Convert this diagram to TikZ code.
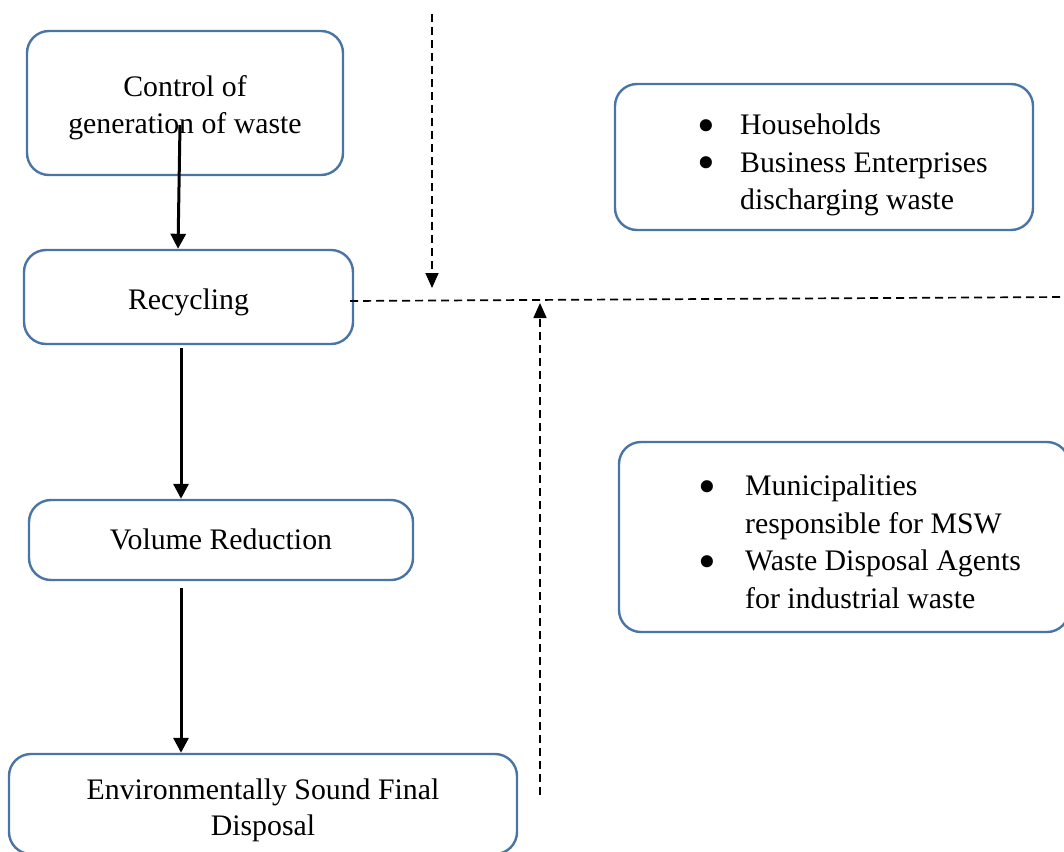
\documentclass[tikz,border=0pt]{standalone}
\usepackage{fontspec}
\setmainfont{Liberation Serif}
\usetikzlibrary{arrows.meta}
\definecolor{boxblue}{RGB}{72,116,166}
\newcommand{\lowered}[2]{\raisebox{-#1}[\height][\depth]{\begin{tabular}{@{}c@{}}#2\end{tabular}}}
\newcommand{\bul}[1]{\makebox[#1][l]{\makebox[0pt]{\raisebox{-7.8pt}[0pt][0pt]{\scalebox{1.7}{\textbullet}}}}}
\begin{document}
\begin{tikzpicture}[x=1pt,y=-1pt,
  box/.style={draw=boxblue, line width=2.4pt, rounded corners=22pt, inner sep=0pt, align=center,
    font=\fontsize{29.8}{37}\selectfont},
  txt/.style={inner sep=0pt, align=left, font=\fontsize{29.8}{37.5}\selectfont},
  solidarr/.style={line width=3pt, -{Triangle[width=15pt,length=15pt]}},
  dasharr/.style={line width=1.7pt, dash pattern=on 8pt off 5pt, -{Triangle[width=13pt,length=15pt]}},
  dashline/.style={line width=1.7pt, dash pattern=on 8pt off 5pt}]
\useasboundingbox (0,0) rectangle (1064,851);
% left column
\node[box, minimum width=316pt, minimum height=144pt] (ctrl) at (185,103) {\lowered{5pt}{Control of\\generation of waste}};
\node[box, minimum width=329pt, minimum height=94pt] (rec) at (188.5,297) {\lowered{5pt}{Recycling}};
\node[box, minimum width=384pt, minimum height=80pt] (vol) at (221,540) {\lowered{2pt}{Volume Reduction}};
\node[box, minimum width=508pt, minimum height=100pt, font=\fontsize{29.8}{36}\selectfont] (env) at (263,804) {\lowered{6pt}{Environmentally Sound Final\\Disposal}};
% right boxes
\node[box, minimum width=418pt, minimum height=146pt] (hh) at (824,157) {};
\node[txt, anchor=west] (hht) at (706,165) {\bul{34pt}Households\\\bul{34pt}Business Enterprises\\\hspace*{34pt}discharging waste};
\node[box, minimum width=450pt, minimum height=190pt] (mun) at (844,537) {};
\node[txt, anchor=west] (munt) at (707,542) {\bul{38pt}Municipalities\\\hspace*{38pt}responsible for MSW\\\bul{38pt}Waste Disposal Agents\\\hspace*{38pt}for industrial waste};
% solid arrows
\coordinate (spine) at (181,0);
\coordinate (cstart) at (180,125);
\draw[solidarr] (cstart) -- (rec.north -| 178,0);
\draw[solidarr] (rec.south -| spine) ++(0,3) -- (vol.north -| spine);
\draw[solidarr] (vol.south -| spine) ++(0,7) -- (env.north -| spine);
% dashed lines
\coordinate (topd) at (432,14);
\coordinate (tope) at (432,288);
\coordinate (hend) at (1064,297);
\coordinate (botd) at (540,795);
\coordinate (bote) at (540,303);
\draw[dasharr] (topd) -- (tope);
\draw[dashline] (rec.east) ++(-4,4) -- (hend);
\draw[dasharr] (botd) -- (bote);
\end{tikzpicture}
\end{document}
